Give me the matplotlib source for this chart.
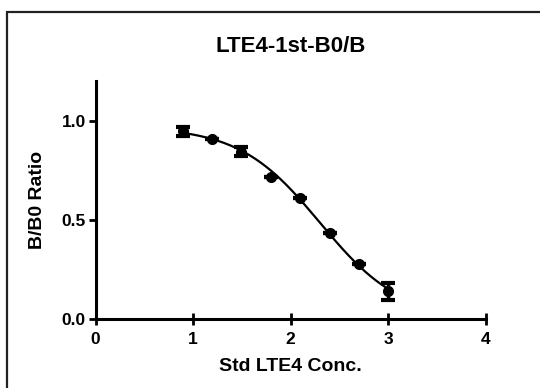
import numpy as np
import matplotlib.pyplot as plt
from matplotlib.patches import Rectangle

plt.rcParams['font.family'] = ['Liberation Sans', 'DejaVu Sans']
plt.rcParams['font.weight'] = 'bold'

# log10 standard concentration vs B/B0
log_conc = [0.893, 1.194, 1.495, 1.796, 2.097, 2.398, 2.699, 3.0]
ratio = [0.946, 0.907, 0.843, 0.716, 0.611, 0.434, 0.277, 0.140]
ratio_err = [0.022, 0.0, 0.022, 0.0, 0.0, 0.0, 0.0, 0.042]

# four-parameter logistic fit
top = 0.97
bottom = 0.0
log_ic50 = 2.30
hill = 1.05

fig = plt.figure(figsize=(5.4, 3.88), dpi=100)
fig.patch.set_facecolor('white')

# outer frame (only left and top edges fall inside the image)
fig.patches.append(Rectangle((7 / 540, -0.5), 2.0, 1.5 - 12 / 388,
                             transform=fig.transFigure, fill=False,
                             edgecolor='#222222', linewidth=1.6))

ax = fig.add_axes([95.5 / 540, 1 - 319 / 388, (486 - 95.5) / 540, (319 - 81) / 388])

xs = np.linspace(log_conc[0], log_conc[-1], 200)
fit = bottom + (top - bottom) / (1 + 10 ** ((xs - log_ic50) * hill))
ax.plot(xs, fit, color='black', linewidth=1.6)

ax.errorbar(log_conc, ratio, yerr=ratio_err, fmt='o', color='black',
            markersize=7, elinewidth=2.5, capsize=5, capthick=3)

ax.set_xlim(0, 4)
ax.set_ylim(0, 1.2)
ax.set_xticks([0, 1, 2, 3, 4])
ax.set_yticks([0.0, 0.5, 1.0])
ax.set_yticklabels(['0.0', '0.5', '1.0'])

for s in ['top', 'right']:
    ax.spines[s].set_visible(False)
for s in ['left', 'bottom']:
    ax.spines[s].set_linewidth(2.2)
ax.tick_params(direction='out', length=5, width=2, labelsize=12.5, pad=2)
ax.tick_params(axis='x', direction='inout', length=8, pad=5)
ax.set_facecolor('none')

ax.set_title('LTE4-1st-B0/B', fontsize=16, fontweight='bold', pad=21)
ax.set_xlabel('Std LTE4 Conc.', fontsize=14, fontweight='bold', labelpad=8)
ax.set_ylabel('B/B0 Ratio', fontsize=14, fontweight='bold', labelpad=11)

fig.savefig('out.png', dpi=100)
